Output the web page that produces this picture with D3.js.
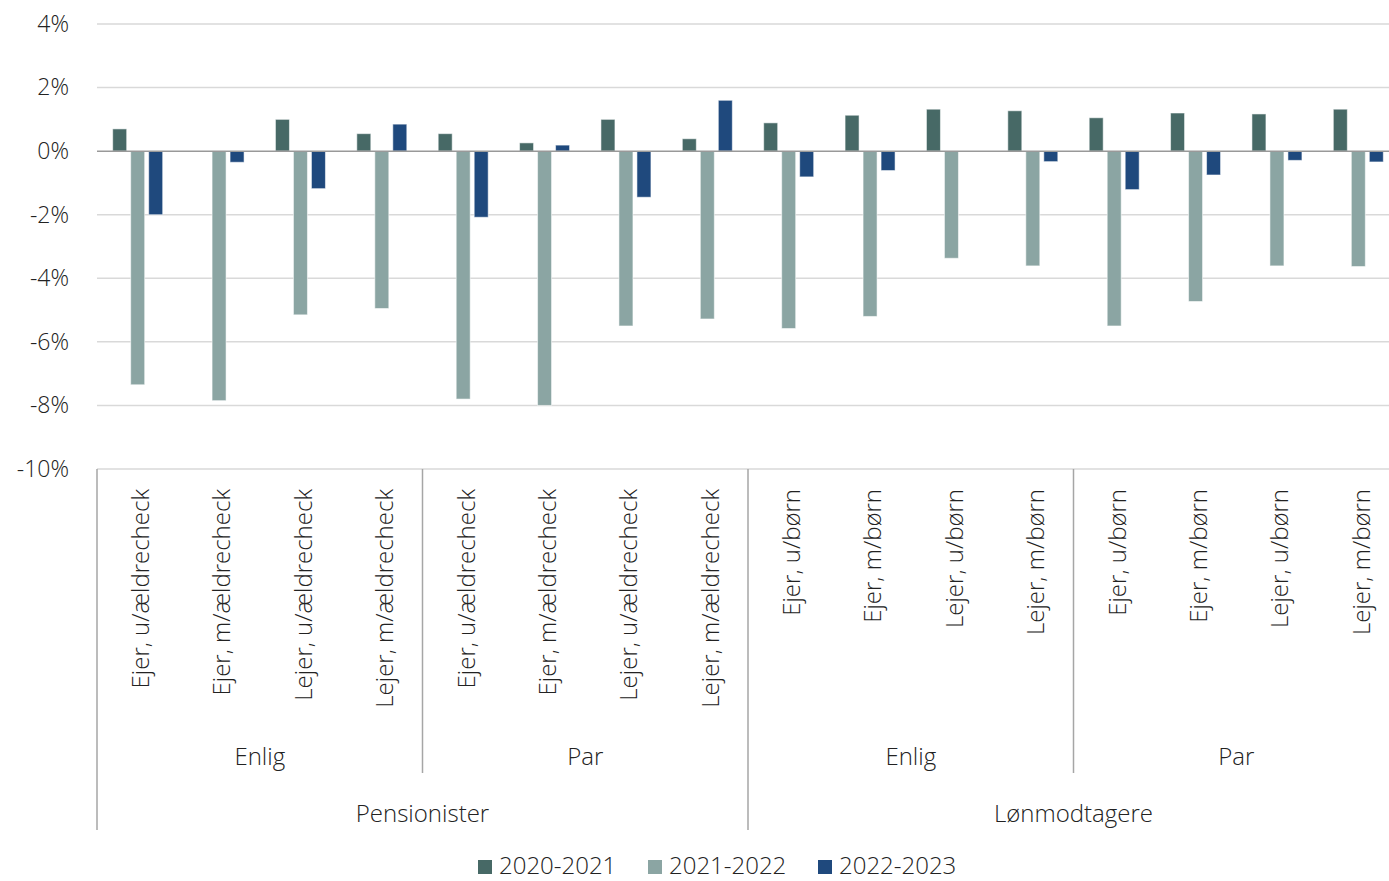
<!DOCTYPE html>
<html>
<head>
<meta charset="utf-8">
<script src="https://cdn.jsdelivr.net/npm/d3@7/dist/d3.min.js"></script>
<style>
  html, body { margin: 0; padding: 0; background: #fff; overflow: hidden; }
  svg text { font-family: "Segoe UI", "Open Sans", "Noto Sans", sans-serif; font-weight: 300; fill: #222; }
</style>
</head>
<body>
<svg id="chart" width="1389" height="881"></svg>
<script>
// Household types, subgroups (Enlig/Par) and main groups
const categories = [
  "Ejer, u/ældrecheck", "Ejer, m/ældrecheck", "Lejer, u/ældrecheck", "Lejer, m/ældrecheck",
  "Ejer, u/ældrecheck", "Ejer, m/ældrecheck", "Lejer, u/ældrecheck", "Lejer, m/ældrecheck",
  "Ejer, u/børn", "Ejer, m/børn", "Lejer, u/børn", "Lejer, m/børn",
  "Ejer, u/børn", "Ejer, m/børn", "Lejer, u/børn", "Lejer, m/børn"
];
const subGroups = ["Enlig", "Par", "Enlig", "Par"];
const mainGroups = ["Pensionister", "Lønmodtagere"];
const seriesNames = ["2020-2021", "2021-2022", "2022-2023"];
const seriesColors = ["#476966", "#8ba5a3", "#1f497d"];

// Change in percent
const s2020_2021 = [0.70, 0.00, 1.00, 0.55, 0.55, 0.26, 1.00, 0.39, 0.89, 1.13, 1.32, 1.27, 1.05, 1.20, 1.17, 1.32];
const s2021_2022 = [-7.35, -7.85, -5.15, -4.95, -7.80, -8.00, -5.50, -5.28, -5.58, -5.20, -3.37, -3.61, -5.50, -4.73, -3.61, -3.63];
const s2022_2023 = [-2.00, -0.35, -1.18, 0.85, -2.08, 0.19, -1.45, 1.60, -0.81, -0.61, 0.00, -0.33, -1.21, -0.75, -0.29, -0.34];
const series = [s2020_2021, s2021_2022, s2022_2023];

const yTicks = [4, 2, 0, -2, -4, -6, -8, -10];

const svg = d3.select("#chart");
// The plot runs a little past the right edge of the frame
const plotLeft = 97, plotRight = 1399, plotTop = 24, plotBottom = 469;

const x = d3.scaleBand().domain(d3.range(categories.length)).range([plotLeft, plotRight]).padding(0);
const y = d3.scaleLinear().domain([-10, 4]).range([plotBottom, plotTop]);
const barW = 14, barStep = 18;

// Gridlines
svg.append("g").selectAll("line").data(yTicks.filter(d => d !== 0)).join("line")
  .attr("x1", plotLeft).attr("x2", plotRight)
  .attr("y1", d => y(d)).attr("y2", d => y(d))
  .attr("stroke", "#d9d9d9").attr("stroke-width", 1.5);

// Y axis labels
const yAxis = d3.axisLeft(y).tickValues(yTicks).tickSize(0).tickPadding(28).tickFormat(d => d + "%");
const ya = svg.append("g").attr("transform", `translate(${plotLeft},0)`).call(yAxis);
ya.select(".domain").remove();
ya.selectAll("text").style("font-size", "23px").attr("fill", "#222")
  .style("font-family", "'Segoe UI', 'Open Sans', 'Noto Sans', sans-serif").style("font-weight", 300);

// Bars
series.forEach((vals, si) => {
  svg.append("g").selectAll("rect").data(vals).join("rect")
    .attr("x", (d, i) => x(i) + x.bandwidth() / 2 + (si - 1) * barStep - barW / 2)
    .attr("width", barW)
    .attr("y", d => y(Math.max(0, d)))
    .attr("height", d => Math.abs(y(d) - y(0)))
    .attr("fill", seriesColors[si])
    .attr("stroke", "#ffffff").attr("stroke-opacity", 0.55).attr("stroke-width", 1);
});

// Zero line
svg.append("line").attr("x1", plotLeft).attr("x2", plotRight).attr("y1", y(0)).attr("y2", y(0))
  .attr("stroke", "#999").attr("stroke-width", 1.5);

// Category axis separators
const sepColor = "#a6a6a6";
const subBottom = 773, mainBottom = 830;
svg.append("line").attr("x1", plotLeft).attr("x2", plotLeft).attr("y1", plotBottom).attr("y2", mainBottom)
  .attr("stroke", sepColor).attr("stroke-width", 1.5);
[4, 12].forEach(i => {
  svg.append("line").attr("x1", x(i)).attr("x2", x(i)).attr("y1", plotBottom).attr("y2", subBottom)
    .attr("stroke", sepColor).attr("stroke-width", 1.5);
});
svg.append("line").attr("x1", x(8)).attr("x2", x(8)).attr("y1", plotBottom).attr("y2", mainBottom)
  .attr("stroke", sepColor).attr("stroke-width", 1.5);

// Category labels (rotated)
svg.append("g").selectAll("text").data(categories).join("text")
  .attr("transform", (d, i) => `translate(${x(i) + x.bandwidth() / 2 + 3},489) rotate(-90)`)
  .attr("text-anchor", "end")
  .attr("dy", "0.35em")
  .style("font-size", "24px")
  .text(d => d);

// Subgroup labels
const subW = x.bandwidth() * 4;
svg.append("g").selectAll("text").data(subGroups).join("text")
  .attr("x", (d, i) => plotLeft + subW * i + subW / 2)
  .attr("y", 757).attr("dy", "0.35em")
  .attr("text-anchor", "middle").style("font-size", "24px")
  .text(d => d);

// Main group labels
const mainW = x.bandwidth() * 8;
svg.append("g").selectAll("text").data(mainGroups).join("text")
  .attr("x", (d, i) => plotLeft + mainW * i + mainW / 2)
  .attr("y", 814).attr("dy", "0.35em")
  .attr("text-anchor", "middle").style("font-size", "24px")
  .text(d => d);

// Legend
const legendX = [478, 648, 818];
const lg = svg.append("g").selectAll("g").data(seriesNames).join("g")
  .attr("transform", (d, i) => `translate(${legendX[i]},866)`);
lg.append("rect").attr("x", 0).attr("y", -6).attr("width", 14).attr("height", 14)
  .attr("fill", (d, i) => seriesColors[i]);
lg.append("text").attr("x", 21).attr("dy", "0.35em").style("font-size", "24px").text(d => d);
</script>
</body>
</html>
